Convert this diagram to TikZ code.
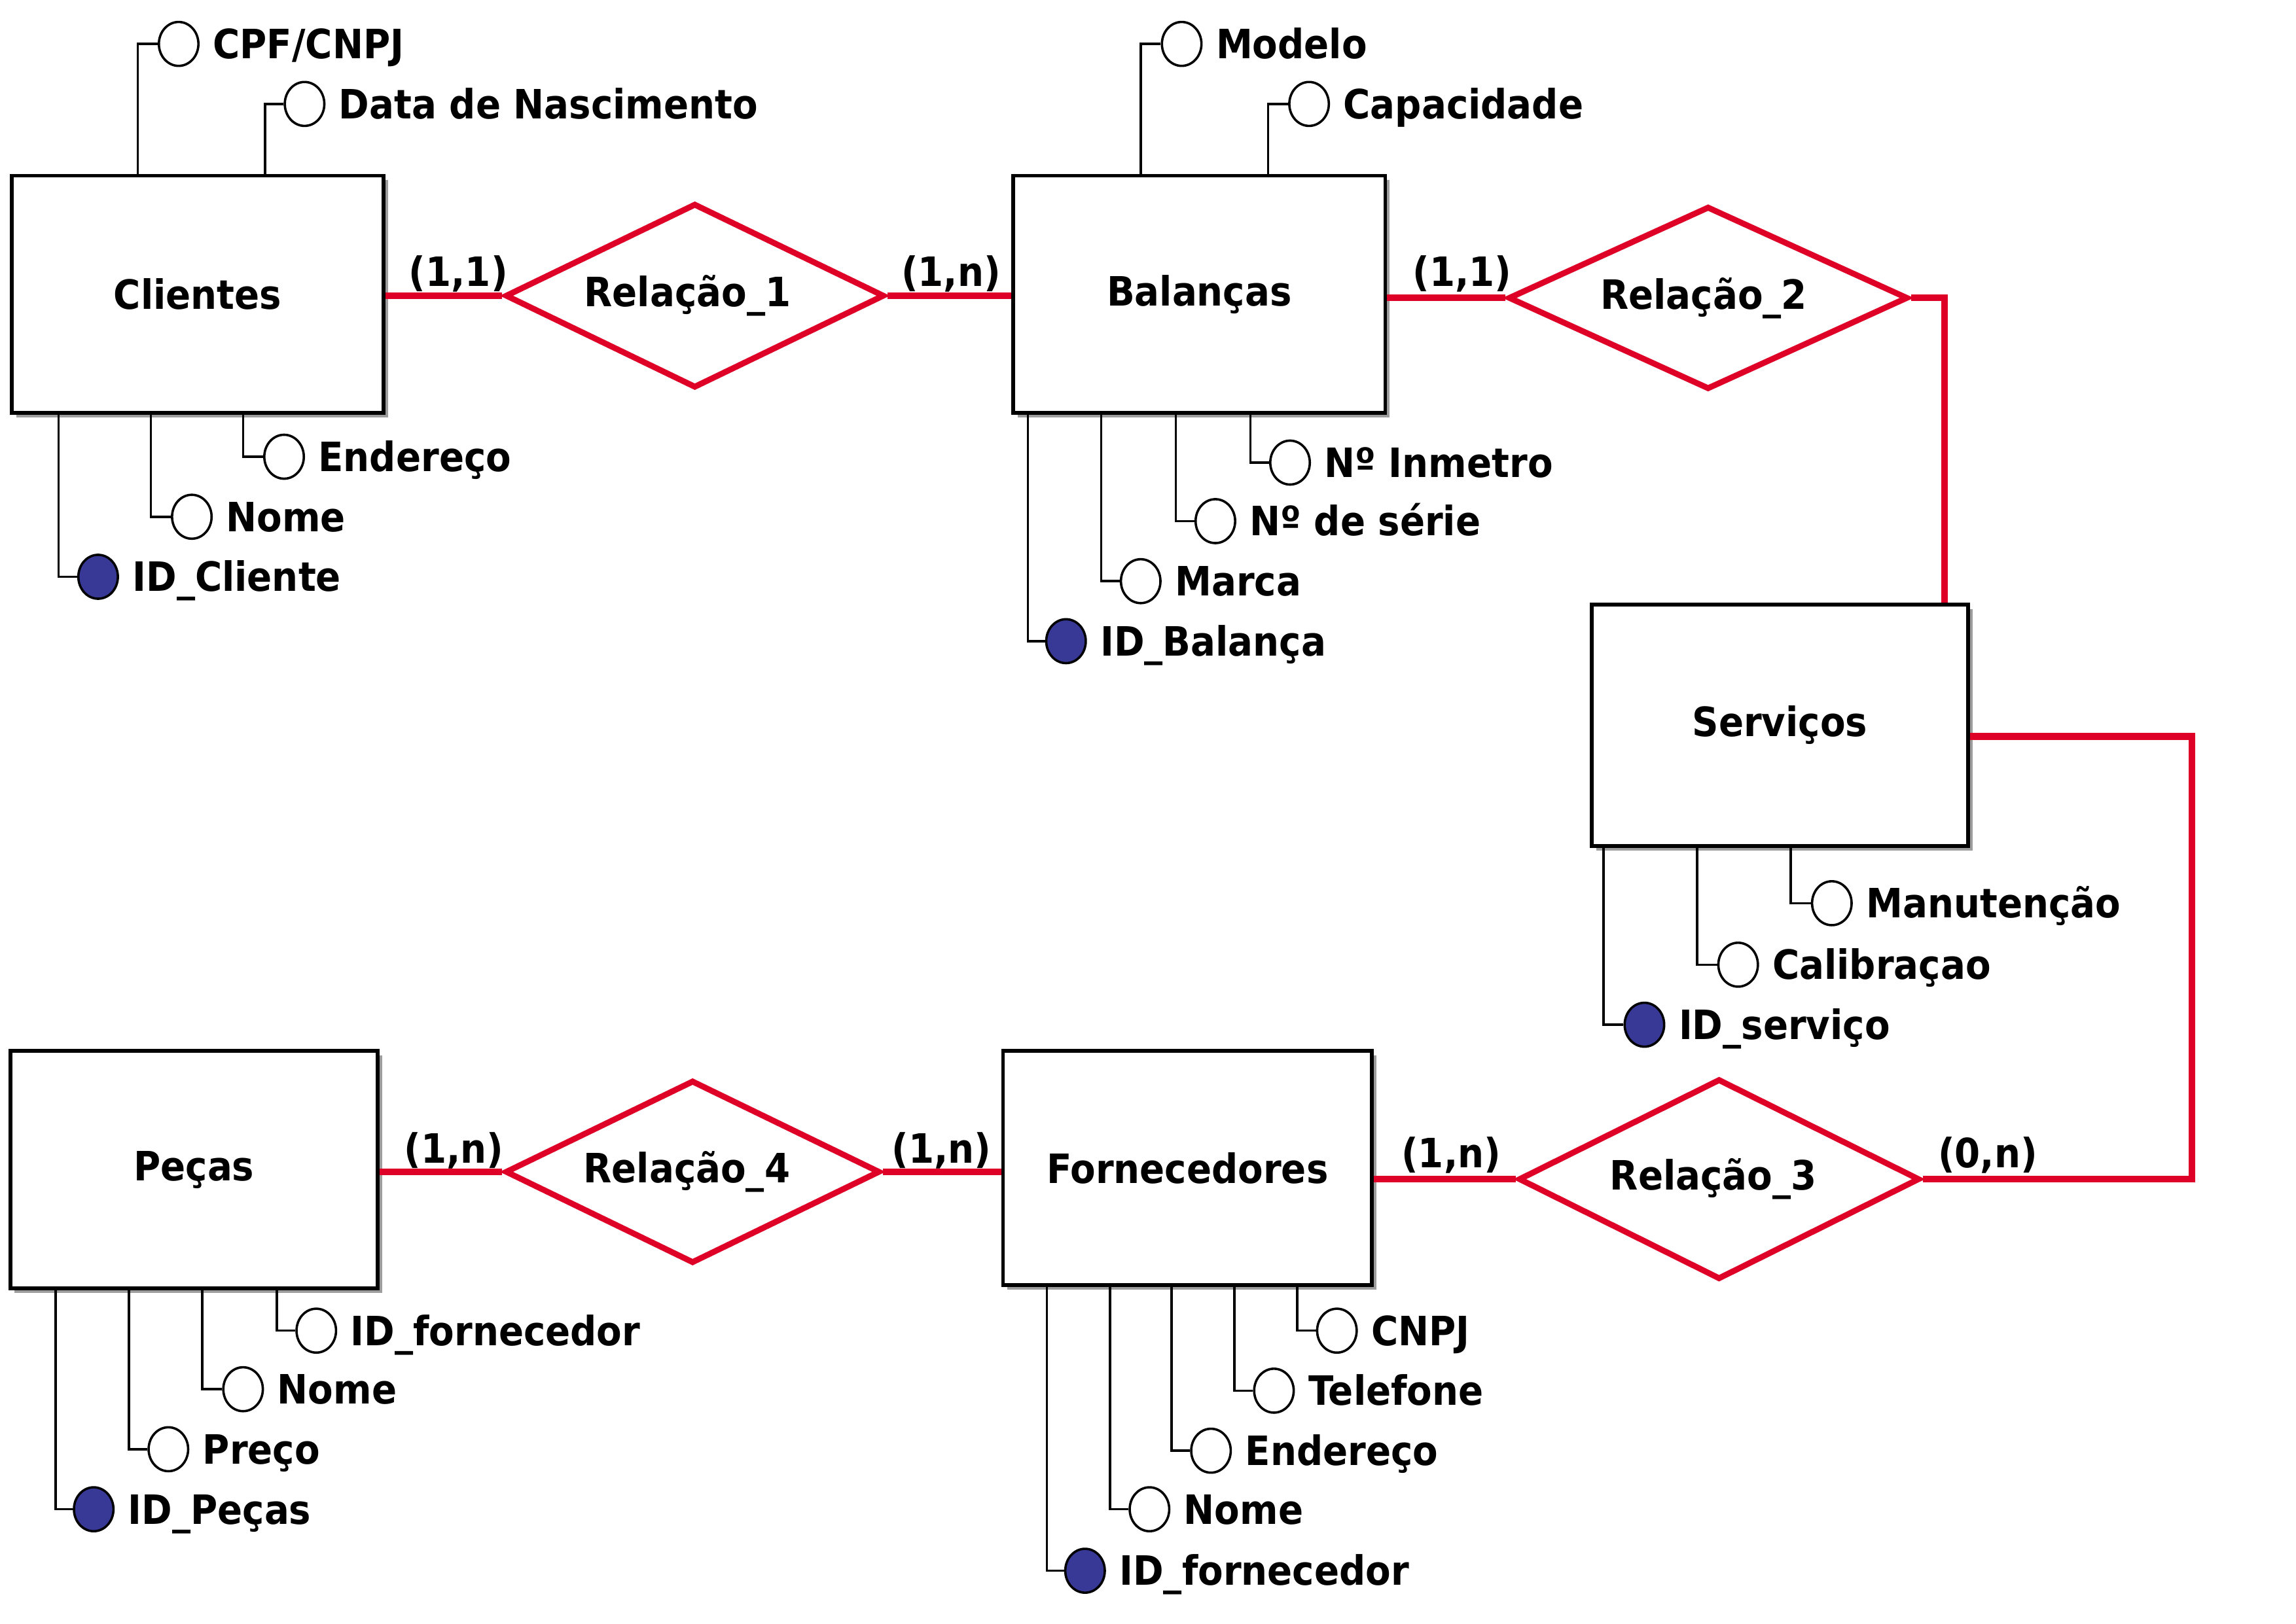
\documentclass[tikz,border=0pt]{standalone}
\usepackage{fontspec}
\setmainfont{DejaVu Sans}[FakeStretch=0.91]
\usetikzlibrary{shapes.geometric,shadows}
\definecolor{relred}{RGB}{222,0,38}
\definecolor{keyblue}{RGB}{56,56,150}
\begin{document}
\begin{tikzpicture}[x=1pt,y=-1pt,
  every node/.style={font=\bfseries\fontsize{27.6}{32}\selectfont},
  entity/.style 2 args={draw, line width=2.6pt, fill=white, minimum width=#1, minimum height=#2, inner sep=0pt,
    drop shadow={shadow xshift=3pt, shadow yshift=-3pt, fill=black!55, opacity=0.7}},
  attr/.style={ellipse, draw, line width=1.6pt, fill=white, minimum width=27pt, minimum height=30pt, inner sep=0pt},
  keyattr/.style={attr, fill=keyblue},
  lbl/.style={inner sep=0pt, text height=20pt, text depth=0pt, label distance=9pt},
  conn/.style={line width=1.6pt},
  rel/.style={draw=relred, line width=4.6pt},
  diam/.style 2 args={diamond, aspect=2, draw=relred, line width=4pt, fill=white, inner sep=0pt, minimum width=#1, minimum height=#2}
]
\useasboundingbox (0,0) rectangle (1568,1109);

% ---------- entities ----------
\node[entity={254pt}{162pt}] (cli) at (135,201) {\raisebox{-2pt}{Clientes}};
\node[entity={254pt}{162pt}] (bal) at (819,201) {\raisebox{-2pt}{Balanças}};
\node[entity={257pt}{165pt}] (srv) at (1215.5,495.5) {\raisebox{-2pt}{Serviços}};
\node[entity={252pt}{160pt}] (for) at (811,798) {\raisebox{-2pt}{Fornecedores}};
\node[entity={251pt}{162pt}] (pec) at (132.5,799) {\raisebox{-2pt}{Peças}};

% ---------- relationships ----------
\node[diam={259pt}{126pt}] (r1) at (474.5,202) {\hspace*{-10pt}Relação\_1};
\node[diam={273pt}{125pt}] (r2) at (1166.5,203.5) {\hspace*{-6pt}Relação\_2};
\node[diam={274pt}{137pt}] (r3) at (1174,805.5) {\hspace*{-8pt}Relação\_3};
\node[diam={256pt}{125pt}] (r4) at (473,800.5) {\hspace*{-8pt}Relação\_4};

% ---------- red connectors ----------
\draw[rel] (cli.east |- r1.west) -- (r1.west);
\draw[rel] (r1.east) -- (bal.west |- r1.east);
\draw[rel] (bal.east |- r2.west) -- (r2.west);
\draw[rel] (r2.east) -| (srv.north -| 1328,0);
\draw[rel] (srv.east |- 0,503) -| (1497,805.5) -- (r3.east);
\draw[rel] (for.east |- r3.west) -- (r3.west);
\draw[rel] (pec.east |- r4.west) -- (r4.west);
\draw[rel] (r4.east) -- (for.west |- r4.east);

% ---------- cardinalities ----------
\node (c1) at (313,187) {(1,1)};
\node (c2) at (649.5,187) {(1,n)};
\node (c3) at (998.5,187) {(1,1)};
\node (c4) at (991,789) {(1,n)};
\node (c5) at (1357.5,789) {(0,n)};
\node (c6) at (310,786) {(1,n)};
\node (c7) at (643,786) {(1,n)};

% ---------- Clientes attributes ----------
\node[attr, label={[lbl]right:CPF/CNPJ}] (cliA1) at (122,30) {};
\node[attr, label={[lbl]right:Data de Nascimento}] (cliA2) at (208,71) {};
\node[attr, label={[lbl]right:Endereço}] (cliB1) at (194,312) {};
\node[attr, label={[lbl]right:Nome}] (cliB2) at (131,353) {};
\node[keyattr, label={[lbl]right:ID\_Cliente}] (cliB3) at (67,394) {};
\draw[conn] (cliA1.west) -| (cli.north -| 94,0);
\draw[conn] (cliA2.west) -| (cli.north -| 181,0);
\draw[conn] (cliB1.west) -| (cli.south -| 166,0);
\draw[conn] (cliB2.west) -| (cli.south -| 103,0);
\draw[conn] (cliB3.west) -| (cli.south -| 40,0);

% ---------- Balanças attributes ----------
\node[attr, label={[lbl]right:Modelo}] (balA1) at (807,30) {};
\node[attr, label={[lbl]right:Capacidade}] (balA2) at (894,71) {};
\node[attr, label={[lbl]right:Nº Inmetro}] (balB1) at (881,316) {};
\node[attr, label={[lbl]right:Nº de série}] (balB2) at (830,356) {};
\node[attr, label={[lbl]right:Marca}] (balB3) at (779,397) {};
\node[keyattr, label={[lbl]right:ID\_Balança}] (balB4) at (728,438) {};
\draw[conn] (balA1.west) -| (bal.north -| 779,0);
\draw[conn] (balA2.west) -| (bal.north -| 866,0);
\draw[conn] (balB1.west) -| (bal.south -| 854,0);
\draw[conn] (balB2.west) -| (bal.south -| 803,0);
\draw[conn] (balB3.west) -| (bal.south -| 752,0);
\draw[conn] (balB4.west) -| (bal.south -| 702,0);

% ---------- Serviços attributes ----------
\node[attr, label={[lbl]right:Manutenção}] (srvB1) at (1251,617) {};
\node[attr, label={[lbl]right:Calibraçao}] (srvB2) at (1187,659) {};
\node[keyattr, label={[lbl]right:ID\_serviço}] (srvB3) at (1123,700) {};
\draw[conn] (srvB1.west) -| (srv.south -| 1223,0);
\draw[conn] (srvB2.west) -| (srv.south -| 1159,0);
\draw[conn] (srvB3.west) -| (srv.south -| 1095,0);

% ---------- Fornecedores attributes ----------
\node[attr, label={[lbl]right:CNPJ}] (forB1) at (913,909) {};
\node[attr, label={[lbl]right:Telefone}] (forB2) at (870,950) {};
\node[attr, label={[lbl]right:Endereço}] (forB3) at (827,991) {};
\node[attr, label={[lbl]right:Nome}] (forB4) at (785,1031) {};
\node[keyattr, label={[lbl]right:ID\_fornecedor}] (forB5) at (741,1073) {};
\draw[conn] (forB1.west) -| (for.south -| 886,0);
\draw[conn] (forB2.west) -| (for.south -| 843,0);
\draw[conn] (forB3.west) -| (for.south -| 800,0);
\draw[conn] (forB4.west) -| (for.south -| 758,0);
\draw[conn] (forB5.west) -| (for.south -| 715,0);

% ---------- Peças attributes ----------
\node[attr, label={[lbl]right:ID\_fornecedor}] (pecB1) at (216,909) {};
\node[attr, label={[lbl]right:Nome}] (pecB2) at (166,949) {};
\node[attr, label={[lbl]right:Preço}] (pecB3) at (115,990) {};
\node[keyattr, label={[lbl]right:ID\_Peças}] (pecB4) at (64,1031) {};
\draw[conn] (pecB1.west) -| (pec.south -| 189,0);
\draw[conn] (pecB2.west) -| (pec.south -| 138,0);
\draw[conn] (pecB3.west) -| (pec.south -| 88,0);
\draw[conn] (pecB4.west) -| (pec.south -| 38,0);
\end{tikzpicture}
\end{document}
